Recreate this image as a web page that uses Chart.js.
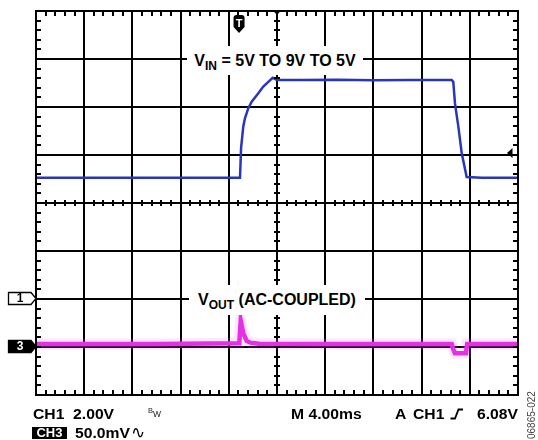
<!DOCTYPE html>
<html>
<head>
<meta charset="utf-8">
<script src="https://cdn.jsdelivr.net/npm/chart.js@4.4.1/dist/chart.umd.min.js"></script>
<style>
  html, body { margin:0; padding:0; background:#fff; }
  #wrap { position:relative; width:538px; height:440px; overflow:hidden; font-family:"Liberation Sans", Arial, Helvetica, sans-serif; }
  #c { position:absolute; left:0; top:0; }
  .box { position:absolute; background:#fff; text-align:center; font-weight:bold; font-size:16px; color:#000; white-space:pre; }
  .box sub { font-size:12px; vertical-align:-4px; line-height:0; }
  .ft { position:absolute; font-weight:bold; font-size:14px; line-height:14px; color:#000; white-space:pre; transform:scaleX(1.12); transform-origin:0 0; }
  .bw { position:absolute; font-size:7.5px; line-height:7.5px; color:#222; }
  #ch3box { position:absolute; left:32px; top:427px; width:35px; height:12px; background:#000; color:#fff; font-weight:bold; font-size:13px; line-height:12px; text-align:center; }
  #ac { position:absolute; left:131px; top:424px; font-family:"DejaVu Sans", sans-serif; font-size:17px; line-height:17px; color:#000; }
  #code { position:absolute; left:509px; top:411px; width:46px; font-size:10px; line-height:10px; color:#444; transform:rotate(-90deg); transform-origin:50% 50%; text-align:center; white-space:nowrap; }
</style>
</head>
<body>
<div id="wrap">
  <canvas id="c" width="538" height="440"></canvas>
  <div class="box" style="left:187px;top:46px;width:176px;height:29px;line-height:29px;">V<sub>IN</sub> = 5V TO 9V TO 5V</div>
  <div class="box" style="left:189px;top:285px;width:176px;height:30px;line-height:30px;">V<sub>OUT</sub> (AC-COUPLED)</div>

  <div class="ft" style="left:33px;top:407px;">CH1  2.00V</div>
  <div class="bw" style="left:148px;top:407px;">B</div>
  <div class="bw" style="left:153px;top:411px;font-size:8.5px;">W</div>
  <div class="ft" style="left:291px;top:407px;">M 4.00ms</div>
  <div class="ft" style="left:395px;top:407px;">A</div>
  <div class="ft" style="left:413px;top:407px;">CH1</div>
  <svg style="position:absolute;left:448px;top:404px;" width="18" height="18">
    <polyline points="2.5,14.5 7,14.5 10.5,5.5 15,5.5" fill="none" stroke="#000" stroke-width="1.8"/>
  </svg>
  <div class="ft" style="left:477px;top:407px;">6.08V</div>

  <div id="ch3box">CH3</div>
  <div class="ft" style="left:75px;top:426px;">50.0mV</div>
  <div id="ac">∿</div>
  <div id="code">06865-022</div>
</div>
<script>
// ---- Data read from the oscilloscope capture ----
// Time axis in ms (screen centre = 0, 4 ms/div, 10 divisions)
const timeRangeMs = [-20, 20];
const msPerDiv = 4;
// CH1: VIN, 2 V/div
const ch1RangeV = [-4, 12];
const voltsPerDiv = 2;
const ch1TimeMs = [-20, -12, -6, -3.07, -2.98, -2.80, -2.66, -2.38, -2.10, -1.55, -1.14, -0.72, -0.36, -0.02, 2, 5, 8, 11, 13, 14.5, 14.63, 14.77, 15.05, 15.33, 15.74, 17, 20];
const ch1Volts   = [5.05, 5.05, 5.05, 5.05, 6.3, 7.18, 7.53, 7.95, 8.22, 8.57, 8.85, 9.05, 9.22, 9.13, 9.12, 9.14, 9.11, 9.13, 9.12, 9.12, 9.05, 8.15, 7.18, 6.07, 5.08, 5.05, 5.05];
// CH3: VOUT AC-coupled, 50 mV/div
const ch3RangeMv = [-50, 350];
const ch3TimeMs  = [-20, -10, -3.13, -3.01, -2.80, -2.51, -2.2, -1.5, 5, 14.5, 14.61, 14.77, 15.68, 15.78, 20];
const ch3MilliVolts = [3, 3, 4, 27.5, 14.3, 6.3, 4.5, 3.5, 3, 3, -2, -6.5, -6.5, 3, 3];
// Trigger settings
const triggerTimeMs = -3.15;
const triggerLevelV = 6.08;

const toPoints = (xs, ys) => xs.map((x, i) => ({ x, y: ys[i] }));

const scopeDecor = {
  id: 'scopeDecor',
  afterDraw(chart) {
    const ctx = chart.ctx;
    const a = chart.chartArea;
    const sx = chart.scales.x, sy = chart.scales.y, s3 = chart.scales.y3;
    ctx.save();
    ctx.strokeStyle = '#000';
    ctx.fillStyle = '#000';
    // frame
    ctx.lineWidth = 2;
    ctx.strokeRect(a.left, a.top, a.right - a.left, a.bottom - a.top);
    // minor ticks (5 per division)
    const cx = Math.round(sx.getPixelForValue((timeRangeMs[0] + timeRangeMs[1]) / 2));
    const cy = Math.round(sy.getPixelForValue((ch1RangeV[0] + ch1RangeV[1]) / 2));
    const nx = Math.round((timeRangeMs[1] - timeRangeMs[0]) / msPerDiv * 5);
    for (let i = 1; i < nx; i++) {
      const px = Math.round(sx.getPixelForValue(timeRangeMs[0] + i * msPerDiv / 5)) - 1;
      ctx.fillRect(px, a.top, 2, 5);
      ctx.fillRect(px, a.bottom - 5, 2, 5);
      ctx.fillRect(px, cy - 3, 2, 6);
    }
    const ny = Math.round((ch1RangeV[1] - ch1RangeV[0]) / voltsPerDiv * 5);
    for (let i = 1; i < ny; i++) {
      const py = Math.round(sy.getPixelForValue(ch1RangeV[0] + i * voltsPerDiv / 5)) - 1;
      ctx.fillRect(a.left, py, 5, 2);
      ctx.fillRect(a.right - 5, py, 5, 2);
      ctx.fillRect(cx - 3, py, 6, 2);
    }

    // trigger position marker (T shield)
    const tx = sx.getPixelForValue(triggerTimeMs), tt = 15;
    ctx.beginPath();
    ctx.moveTo(tx - 5.5, tt + 12);
    ctx.lineTo(tx - 5.5, tt + 3);
    ctx.quadraticCurveTo(tx - 5.5, tt, tx - 2.5, tt);
    ctx.lineTo(tx + 2.5, tt);
    ctx.quadraticCurveTo(tx + 5.5, tt, tx + 5.5, tt + 3);
    ctx.lineTo(tx + 5.5, tt + 12);
    ctx.lineTo(tx, tt + 18);
    ctx.closePath();
    ctx.fill();
    ctx.fillStyle = '#fff';
    ctx.font = 'bold 11px "Liberation Sans", Arial, sans-serif';
    ctx.textAlign = 'center';
    ctx.textBaseline = 'alphabetic';
    ctx.fillText('T', tx, tt + 12);

    // centre marker at top
    ctx.fillStyle = '#000';
    ctx.beginPath();
    ctx.moveTo(cx - 4.5, a.top - 1);
    ctx.lineTo(cx + 4.5, a.top - 1);
    ctx.lineTo(cx, a.top + 4);
    ctx.closePath();
    ctx.fill();

    // trigger level arrow on right
    const ly = sy.getPixelForValue(triggerLevelV);
    ctx.beginPath();
    ctx.moveTo(a.right - 11, ly);
    ctx.lineTo(a.right - 5.5, ly - 5);
    ctx.lineTo(a.right - 5.5, ly + 5);
    ctx.closePath();
    ctx.fill();

    // channel ground markers
    const drawMarker = (py, label, filled) => {
      ctx.beginPath();
      ctx.moveTo(8.5, py - 6);
      ctx.lineTo(31, py - 6);
      ctx.lineTo(36, py);
      ctx.lineTo(31, py + 6);
      ctx.lineTo(8.5, py + 6);
      ctx.closePath();
      ctx.fillStyle = filled ? '#000' : '#fff';
      ctx.fill();
      ctx.lineWidth = 1.3;
      ctx.strokeStyle = '#000';
      ctx.stroke();
      ctx.fillStyle = filled ? '#fff' : '#000';
      ctx.font = 'bold 12px "Liberation Sans", Arial, sans-serif';
      ctx.textAlign = 'center';
      ctx.textBaseline = 'middle';
      ctx.fillText(label, 20, py + 0.5);
    };
    drawMarker(Math.round(sy.getPixelForValue(0)) - 0.5, '1', false);
    drawMarker(Math.round(s3.getPixelForValue(0)) - 0.5, '3', true);
    ctx.restore();
  }
};

new Chart(document.getElementById('c'), {
  type: 'line',
  data: {
    datasets: [
      {
        label: 'CH1 VIN',
        data: toPoints(ch1TimeMs, ch1Volts),
        yAxisID: 'y',
        borderColor: '#2a36b8',
        borderWidth: 2.5,
        pointRadius: 0,
        tension: 0
      },
      {
        label: 'CH3 VOUT noise',
        data: toPoints(ch3TimeMs, ch3MilliVolts),
        yAxisID: 'y3',
        borderColor: 'rgba(238,130,238,0.18)',
        borderWidth: 11,
        pointRadius: 0,
        tension: 0
      },
      {
        label: 'CH3 VOUT',
        data: toPoints(ch3TimeMs, ch3MilliVolts),
        yAxisID: 'y3',
        borderColor: '#e41ee4',
        borderWidth: 4.5,
        pointRadius: 0,
        tension: 0
      }
    ]
  },
  options: {
    responsive: false,
    animation: false,
    events: [],
    layout: { padding: { left: 36, top: 11, right: 20, bottom: 45 } },
    plugins: { legend: { display: false }, tooltip: { enabled: false } },
    scales: {
      x: {
        type: 'linear',
        min: timeRangeMs[0], max: timeRangeMs[1],
        ticks: { display: false, stepSize: msPerDiv },
        grid: { color: '#000', lineWidth: 2, drawTicks: false },
        border: { display: false }
      },
      y: {
        min: ch1RangeV[0], max: ch1RangeV[1],
        ticks: { display: false, stepSize: voltsPerDiv },
        grid: { color: '#000', lineWidth: 2, drawTicks: false },
        border: { display: false }
      },
      y3: {
        display: false,
        min: ch3RangeMv[0], max: ch3RangeMv[1]
      }
    }
  },
  plugins: [scopeDecor]
});
</script>
</body>
</html>
